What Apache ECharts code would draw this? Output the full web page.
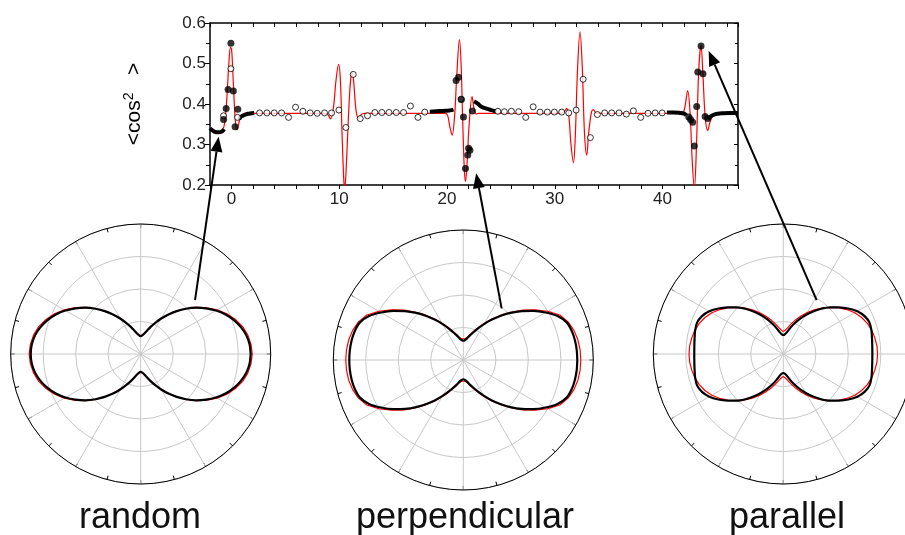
<!DOCTYPE html>
<html>
<head>
    <meta charset="UTF-8">
    <title>cos2 orientation</title>
    <script type="text/javascript" src="https://cdn.jsdelivr.net/npm/echarts@6/dist/echarts.min.js"></script>
</head>
<body style="margin: 0">
<div id="container" style="width: 905px; height: 535px"></div>
<script type="text/javascript">
    // ---- top panel: <cos^2> vs x ----
    const fitCurve = [
        [-2, 0.340], [-1.6, 0.332], [-1.2, 0.331], [-0.9, 0.334], [-0.7, 0.345], [-0.55, 0.375],
        [-0.4, 0.43], [-0.25, 0.50], [-0.1, 0.54], [0.0, 0.535], [0.1, 0.49], [0.22, 0.42],
        [0.35, 0.36], [0.5, 0.336], [0.62, 0.345], [0.8, 0.366], [1.0, 0.374], [1.5, 0.377],
        [2, 0.377], [8.6, 0.377], [8.9, 0.375], [9.2, 0.363], [9.45, 0.39], [9.7, 0.46],
        [9.93, 0.498], [10.1, 0.46], [10.25, 0.33], [10.42, 0.21], [10.5, 0.192], [10.62, 0.23],
        [10.85, 0.37], [11.05, 0.46], [11.2, 0.477], [11.35, 0.45], [11.55, 0.385], [11.8, 0.364],
        [12.0, 0.373], [12.3, 0.377], [19.8, 0.377], [20.05, 0.372], [20.25, 0.345], [20.47, 0.323],
        [20.7, 0.37], [20.9, 0.47], [21.15, 0.559], [21.3, 0.50], [21.45, 0.36], [21.6, 0.24],
        [21.71, 0.208], [21.85, 0.25], [22.05, 0.35], [22.32, 0.418], [22.5, 0.39], [22.7, 0.375],
        [22.9, 0.377], [30.5, 0.377], [30.9, 0.382], [31.1, 0.389], [31.3, 0.37], [31.5, 0.30],
        [31.73, 0.255], [31.9, 0.32], [32.1, 0.48], [32.34, 0.578], [32.55, 0.49], [32.75, 0.33],
        [32.96, 0.274], [33.15, 0.33], [33.4, 0.38], [33.58, 0.386], [33.8, 0.378], [34.2, 0.377],
        [41.5, 0.377], [41.8, 0.374], [42.05, 0.39], [42.33, 0.433], [42.55, 0.38], [42.75, 0.26],
        [42.95, 0.19], [43.15, 0.30], [43.35, 0.48], [43.57, 0.545], [43.75, 0.47], [43.95, 0.37],
        [44.19, 0.334], [44.4, 0.355], [44.7, 0.372], [45.2, 0.377], [47, 0.377]
    ];
    // dense runs of measured points (drawn as thick black strokes)
    const denseRuns = [
        [[-2.0, 0.340], [-1.6, 0.332], [-1.2, 0.330], [-0.9, 0.332], [-0.7, 0.338]],
        [[0.7, 0.362], [0.9, 0.369], [1.2, 0.373], [1.6, 0.376], [2.1, 0.378]],
        [[18.4, 0.381], [19.0, 0.382], [19.6, 0.383], [20.2, 0.384], [20.6, 0.386]],
        [[22.5, 0.407], [22.85, 0.401], [23.15, 0.394], [23.6, 0.389], [24.1, 0.385], [24.6, 0.382]],
        [[40.4, 0.379], [41.0, 0.379], [41.6, 0.378], [42.0, 0.376], [42.2, 0.372]],
        [[44.2, 0.362], [44.5, 0.370], [44.9, 0.375], [45.5, 0.377], [46.2, 0.378], [47, 0.378]]
    ];
    const filledDots = [
        [-0.74, 0.362], [-0.5, 0.389], [-0.32, 0.436], [-0.06, 0.550], [0.17, 0.432], [0.33, 0.344], [0.58, 0.387],
        [20.84, 0.458], [21.06, 0.466], [21.33, 0.411], [21.52, 0.368], [21.71, 0.241], [21.92, 0.274],
        [22.0, 0.291], [22.12, 0.286], [22.35, 0.383],
        [42.43, 0.368], [42.6, 0.362], [42.79, 0.355], [42.95, 0.296], [43.17, 0.394], [43.27, 0.479],
        [43.57, 0.543], [43.75, 0.475], [43.95, 0.369], [44.19, 0.364]
    ];
    const openDots = [
        [-0.74, 0.371], [-0.06, 0.487], [0.55, 0.367], [21.3, 0.412],
        [2.6, 0.378], [3.28, 0.378], [3.96, 0.378], [4.64, 0.378], [5.29, 0.367], [5.94, 0.392],
        [6.62, 0.382], [7.30, 0.378], [7.95, 0.377], [8.63, 0.378], [9.28, 0.378], [9.96, 0.385],
        [10.61, 0.342], [11.29, 0.473], [11.94, 0.364], [12.62, 0.371], [13.30, 0.379], [13.95, 0.379],
        [14.61, 0.379], [15.28, 0.379], [15.96, 0.379], [16.6, 0.395], [17.3, 0.367], [17.93, 0.380],
        [24.71, 0.382], [25.32, 0.381], [25.97, 0.382], [26.65, 0.381], [27.30, 0.367], [27.99, 0.393],
        [28.63, 0.380], [29.31, 0.380], [29.96, 0.380], [30.64, 0.380], [31.29, 0.378], [31.98, 0.385],
        [32.63, 0.461], [33.30, 0.317], [33.95, 0.374], [34.63, 0.378], [35.28, 0.378], [35.96, 0.378],
        [36.64, 0.375], [37.29, 0.383], [37.97, 0.367], [38.65, 0.377], [39.31, 0.378], [39.96, 0.378]
    ];

    // ---- bottom panels: angular distributions, one quadrant (0..90 deg), radius 1 = outer ring ----
    const polarAngles = [0, 5, 10, 15, 20, 25, 30, 35, 40, 45, 50, 55, 60, 65, 70, 75, 80, 85, 90];
    const randomData = [0.846, 0.841, 0.825, 0.798, 0.763, 0.720, 0.669, 0.613, 0.554, 0.492, 0.431, 0.372, 0.315, 0.265, 0.222, 0.186, 0.160, 0.144, 0.138];
    const randomFit = [0.858, 0.852, 0.837, 0.812, 0.775, 0.731, 0.678, 0.620, 0.558, 0.495, 0.431, 0.369, 0.312, 0.262, 0.219, 0.185, 0.159, 0.145, 0.140];
    const perpData = [0.877, 0.876, 0.872, 0.864, 0.846, 0.800, 0.731, 0.658, 0.585, 0.512, 0.442, 0.377, 0.319, 0.269, 0.227, 0.196, 0.169, 0.154, 0.148];
    const perpFit = [0.904, 0.902, 0.895, 0.881, 0.858, 0.819, 0.750, 0.673, 0.596, 0.519, 0.450, 0.385, 0.327, 0.277, 0.235, 0.204, 0.177, 0.164, 0.159];
    const paraData = [0.685, 0.687, 0.693, 0.702, 0.706, 0.690, 0.657, 0.610, 0.558, 0.508, 0.454, 0.400, 0.346, 0.296, 0.250, 0.208, 0.173, 0.154, 0.146];
    const paraFit = [0.725, 0.723, 0.715, 0.704, 0.688, 0.665, 0.635, 0.596, 0.554, 0.508, 0.462, 0.415, 0.369, 0.323, 0.281, 0.242, 0.208, 0.185, 0.172];
    const panelNames = ['random', 'perpendicular', 'parallel'];

    // arrows: tip in top-panel data coords, tail as [r, angle] in each polar panel
    const arrowTips = [[-1.2, 0.319], [22.7, 0.229], [44.28, 0.531]];
    const arrowTails = [[0.589, 44.8], [0.495, 53.4], [0.488, 58.3]];

    const FONT = 'Liberation Sans, Arial, sans-serif';
    const centers = [[140.7, 354], [463.3, 360], [783.3, 354]];

    // mirror the quadrant into a closed curve
    function closedCurve(radii) {
        const pts = [];
        const n = polarAngles.length;
        for (let i = 0; i < n; i++) pts.push([radii[i], polarAngles[i]]);
        for (let i = n - 1; i >= 0; i--) pts.push([radii[i], 180 - polarAngles[i]]);
        for (let i = 0; i < n; i++) pts.push([radii[i], 180 + polarAngles[i]]);
        for (let i = n - 1; i >= 0; i--) pts.push([radii[i], 360 - polarAngles[i]]);
        return pts;
    }

    const dom = document.getElementById("container");
    const myChart = echarts.init(dom);

    const blackAxis = {lineStyle: {color: '#000', width: 1.5}};
    const series = [];
    series.push({
        type: 'line', xAxisIndex: 0, yAxisIndex: 0, data: fitCurve, smooth: 0.35,
        showSymbol: false, clip: true, z: 2,
        lineStyle: {color: '#ff0000', width: 1.2}
    });
    denseRuns.forEach(function (run) {
        series.push({
            type: 'line', xAxisIndex: 0, yAxisIndex: 0, data: run, smooth: true,
            showSymbol: false, clip: true, z: 3,
            lineStyle: {color: '#000', width: 4}
        });
    });
    series.push({
        type: 'scatter', xAxisIndex: 0, yAxisIndex: 0, data: openDots, symbolSize: 6, z: 4,
        itemStyle: {color: '#fff', borderColor: '#000', borderWidth: 1}
    });
    series.push({
        type: 'scatter', xAxisIndex: 0, yAxisIndex: 0, data: filledDots, symbolSize: 7, z: 5,
        itemStyle: {color: '#000'}
    });

    const polarSeriesIndex = [];
    [[randomFit, randomData], [perpFit, perpData], [paraFit, paraData]].forEach(function (pair, i) {
        series.push({
            type: 'line', coordinateSystem: 'polar', polarIndex: i, data: closedCurve(pair[0]),
            showSymbol: false, z: 3, lineStyle: {color: '#ff0000', width: 1.2}
        });
        polarSeriesIndex.push(series.length);
        series.push({
            type: 'line', coordinateSystem: 'polar', polarIndex: i, data: closedCurve(pair[1]),
            showSymbol: false, smooth: 0.2, z: 4, lineStyle: {color: '#000', width: 2.2}
        });
    });

    const option = {
        animation: false,
        backgroundColor: '#fff',
        grid: {left: 210, top: 23, width: 528, height: 162, show: false},
        xAxis: [{
            type: 'value', min: -2, max: 47, interval: 2, position: 'bottom',
            axisLine: Object.assign({onZero: false}, blackAxis),
            axisTick: {length: 4, lineStyle: {color: '#000'}},
            axisLabel: {
                fontSize: 17, color: '#222', fontFamily: FONT, margin: 6,
                formatter: function (v) { return v % 10 === 0 ? String(v) : ''; }
            },
            splitLine: {show: false}
        }, {
            type: 'value', min: -2, max: 47, interval: 2, position: 'top',
            axisLine: Object.assign({onZero: false}, blackAxis),
            axisTick: {inside: true, length: 4, lineStyle: {color: '#000'}},
            axisLabel: {show: false}, splitLine: {show: false}
        }],
        yAxis: [{
            type: 'value', min: 0.2, max: 0.6, interval: 0.1, position: 'left',
            axisLine: Object.assign({onZero: false}, blackAxis),
            axisTick: {length: 5, lineStyle: {color: '#000'}},
            minorTick: {show: true, splitNumber: 2, length: 4, lineStyle: {color: '#000'}},
            axisLabel: {
                fontSize: 17, color: '#222', fontFamily: FONT, margin: 4,
                formatter: function (v) { return v.toFixed(1); }
            },
            splitLine: {show: false}
        }, {
            type: 'value', min: 0.2, max: 0.6, interval: 0.1, position: 'right',
            axisLine: Object.assign({onZero: false}, blackAxis),
            axisTick: {inside: true, length: 4, lineStyle: {color: '#000'}},
            minorTick: {show: true, splitNumber: 2, length: 3, lineStyle: {color: '#000'}},
            axisLabel: {show: false}, splitLine: {show: false}
        }],
        polar: centers.map(function (c) { return {center: c, radius: 130}; }),
        angleAxis: centers.map(function (c, i) {
            return {
                polarIndex: i, type: 'value', min: 0, max: 360, interval: 30,
                startAngle: 0, clockwise: false, z: 2,
                axisLine: {lineStyle: {color: '#000', width: 1}},
                axisTick: {inside: true, length: 4, lineStyle: {color: '#000'}},
                minorTick: {show: true, splitNumber: 2, length: 4, lineStyle: {color: '#000'}},
                axisLabel: {show: false},
                splitLine: {show: true, lineStyle: {color: '#c8c8c8', width: 1}}
            };
        }),
        radiusAxis: centers.map(function (c, i) {
            return {
                polarIndex: i, type: 'value', min: 0, max: 1, interval: 0.25, z: 1,
                axisLine: {show: false}, axisTick: {show: false}, axisLabel: {show: false},
                splitLine: {show: true, lineStyle: {color: '#c8c8c8', width: 1}}
            };
        }),
        series: series
    };
    myChart.setOption(option, true);

    // labels and arrows
    const graphics = [{
        type: 'text', x: 134, y: 104, rotation: Math.PI / 2, z: 100,
        style: {
            text: '{a|<cos}{b|2}{a|   >}', align: 'center', verticalAlign: 'middle',
            rich: {
                a: {fontSize: 21, fontFamily: FONT, color: '#111', lineHeight: 24},
                b: {fontSize: 14, fontFamily: FONT, color: '#111', lineHeight: 24, verticalAlign: 'top'}
            }
        }
    }];
    panelNames.forEach(function (name, i) {
        graphics.push({
            type: 'text', x: [140, 465, 787][i], y: 518, z: 100,
            style: {text: name, font: '36px ' + FONT, fill: '#111', align: 'center', verticalAlign: 'middle'}
        });
    });
    arrowTips.forEach(function (tipVal, i) {
        const tip = myChart.convertToPixel({gridIndex: 0}, tipVal);
        const tail = myChart.convertToPixel({seriesIndex: polarSeriesIndex[i]}, arrowTails[i]);
        const dx = tip[0] - tail[0], dy = tip[1] - tail[1];
        const len = Math.sqrt(dx * dx + dy * dy);
        const ux = dx / len, uy = dy / len;
        const headLen = 15, headHalf = 6;
        const bx = tip[0] - ux * headLen, by = tip[1] - uy * headLen;
        graphics.push({
            type: 'line', z: 100,
            shape: {x1: tail[0], y1: tail[1], x2: bx, y2: by},
            style: {stroke: '#000', lineWidth: 2}
        });
        graphics.push({
            type: 'polygon', z: 100,
            shape: {points: [tip, [bx - uy * headHalf, by + ux * headHalf], [bx + uy * headHalf, by - ux * headHalf]]},
            style: {fill: '#000'}
        });
    });
    myChart.setOption({graphic: graphics});
</script>
</body>
</html>
